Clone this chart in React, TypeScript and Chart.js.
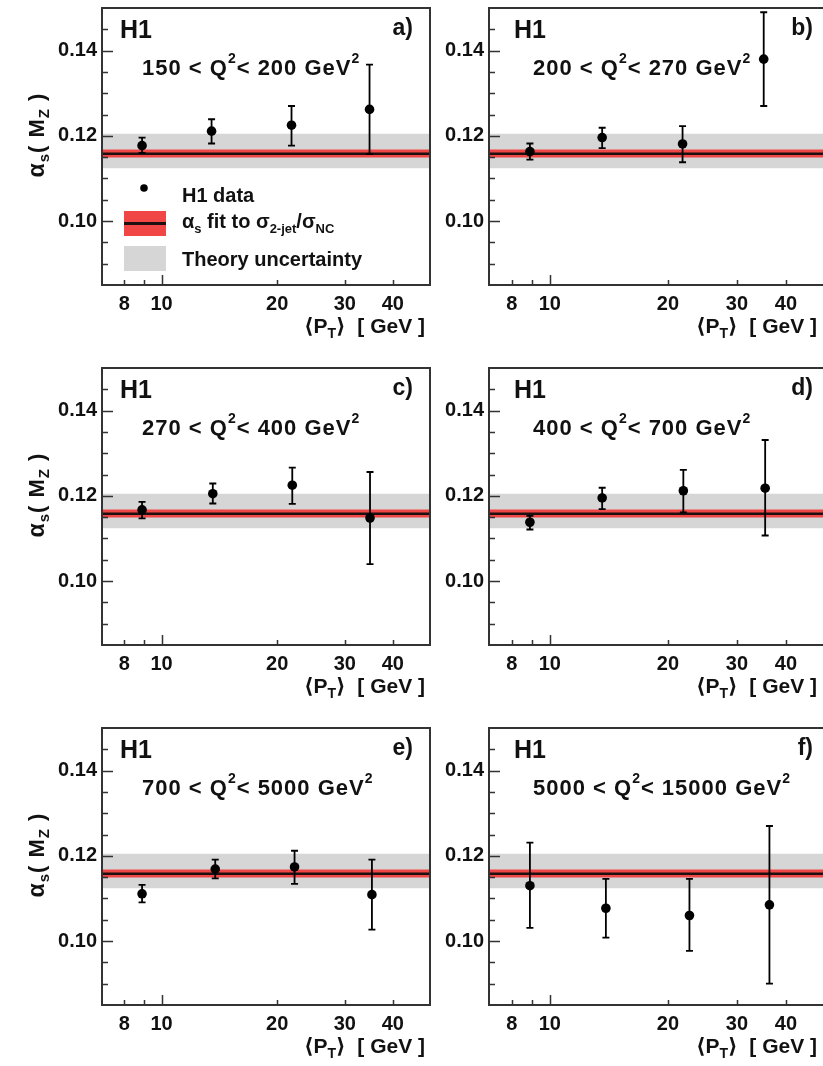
import React, { useEffect, useRef } from 'react';
import { Chart, registerables } from 'chart.js';

Chart.register(...registerables);

const FONT = "'Liberation Sans', Arial, Helvetica, 'DejaVu Sans', sans-serif";
const INK = '#111111';
const FRAME = '#333333';
const GRAY = '#d6d6d6';
const RED = '#f04646';
const FIT_LINE = '#1e1010';

// x axis (log)
const X_MIN = 7;
const X_MAX = 50;
const X_TICKS = [8, 9, 10, 20, 30, 40];
const X_LABELED = [8, 10, 20, 30, 40];
const X_MAJOR = [10];

// y axis
const Y_MIN = 0.085;
const Y_MAX = 0.15;
const Y_TICKS = [0.09, 0.095, 0.1, 0.105, 0.11, 0.115, 0.12, 0.125, 0.13, 0.135, 0.14, 0.145];
const Y_LABELED = [0.1, 0.12, 0.14];

// alpha_s fit and uncertainty bands
const FIT_VALUE = 0.1158;
const FIT_LOW = 0.1149;
const FIT_HIGH = 0.1168;
const THEORY_LOW = 0.1124;
const THEORY_HIGH = 0.1205;

// panel a) 150 < Q2 < 200
const PT_A = [8.9, 13.5, 21.8, 34.8];
const AS_A = [0.1177, 0.1211, 0.1225, 0.1262];
const HI_A = [0.1196, 0.1239, 0.127, 0.1367];
const LO_A = [0.116, 0.1182, 0.1177, 0.1157];
// panel b) 200 < Q2 < 270
const PT_B = [8.9, 13.6, 21.8, 35.1];
const AS_B = [0.1163, 0.1196, 0.1181, 0.138];
const HI_B = [0.1182, 0.1219, 0.1223, 0.149];
const LO_B = [0.1144, 0.1171, 0.1138, 0.127];
// panel c) 270 < Q2 < 400
const PT_C = [8.9, 13.6, 21.9, 34.9];
const AS_C = [0.1167, 0.1205, 0.1225, 0.1148];
const HI_C = [0.1186, 0.1229, 0.1266, 0.1256];
const LO_C = [0.1147, 0.1182, 0.1181, 0.104];
// panel d) 400 < Q2 < 700
const PT_D = [8.9, 13.6, 21.9, 35.4];
const AS_D = [0.1138, 0.1195, 0.1212, 0.1218];
const HI_D = [0.1153, 0.1219, 0.1261, 0.1331];
const LO_D = [0.1121, 0.1169, 0.1161, 0.1107];
// panel e) 700 < Q2 < 5000
const PT_E = [8.9, 13.8, 22.2, 35.3];
const AS_E = [0.1111, 0.1169, 0.1174, 0.1109];
const HI_E = [0.1132, 0.1191, 0.1212, 0.1191];
const LO_E = [0.1091, 0.1147, 0.1134, 0.1027];
// panel f) 5000 < Q2 < 15000
const PT_F = [8.9, 13.9, 22.7, 36.3];
const AS_F = [0.113, 0.1077, 0.106, 0.1085];
const HI_F = [0.1231, 0.1146, 0.1146, 0.127];
const LO_F = [0.1031, 0.1008, 0.0977, 0.09];

const Q2_LOW = ['150', '200', '270', '400', '700', '5000'];
const Q2_HIGH = ['200', '270', '400', '700', '5000', '15000'];
const TAGS = ['a)', 'b)', 'c)', 'd)', 'e)', 'f)'];

const PANELS = [
  { pt: PT_A, as: AS_A, hi: HI_A, lo: LO_A },
  { pt: PT_B, as: AS_B, hi: HI_B, lo: LO_B },
  { pt: PT_C, as: AS_C, hi: HI_C, lo: LO_C },
  { pt: PT_D, as: AS_D, hi: HI_D, lo: LO_D },
  { pt: PT_E, as: AS_E, hi: HI_E, lo: LO_E },
  { pt: PT_F, as: AS_F, hi: HI_F, lo: LO_F },
];

const ROW_H = 360;
const COLS = [
  { left: 0, width: 440, yW: 102, padR: 10, h1Dx: 18, tagDx: 17, subDx: 40, xTitleDx: 5 },
  { left: 440, width: 400, yW: 49, padR: 16, h1Dx: 25, tagDx: 11, subDx: 44, xTitleDx: 7 },
];

type Seg = { t: string; size: number; dy?: number };

function richWidth(ctx: CanvasRenderingContext2D, segs: Seg[], weight: string) {
  let w = 0;
  for (const s of segs) {
    ctx.font = `${weight} ${s.size}px ${FONT}`;
    w += ctx.measureText(s.t).width;
  }
  return w;
}

function drawRich(
  ctx: CanvasRenderingContext2D,
  x: number,
  y: number,
  segs: Seg[],
  align: 'left' | 'right' | 'center' = 'left',
  weight = 'bold'
) {
  const w = richWidth(ctx, segs, weight);
  let cx = align === 'right' ? x - w : align === 'center' ? x - w / 2 : x;
  ctx.textAlign = 'left';
  ctx.textBaseline = 'alphabetic';
  for (const s of segs) {
    ctx.font = `${weight} ${s.size}px ${FONT}`;
    ctx.fillText(s.t, cx, y + (s.dy || 0));
    cx += ctx.measureText(s.t).width;
  }
}

const near = (arr: number[], v: number) => arr.some((a) => Math.abs(a - v) < 1e-9);

function Panel({ index }: { index: number }) {
  const ref = useRef<HTMLCanvasElement>(null);
  const row = Math.floor(index / 2);
  const col = index % 2;
  const L = COLS[col];

  useEffect(() => {
    const p = PANELS[index];
    const hline = (v: number) => [
      { x: X_MIN, y: v },
      { x: X_MAX, y: v },
    ];
    const POINTS = 5;

    const decor = {
      id: 'decor',
      beforeDatasetDraw(chart: any, args: any) {
        if (args.index !== POINTS) return;
        const { ctx, scales } = chart;
        const xs = scales.x;
        const ys = scales.y;
        ctx.save();
        ctx.strokeStyle = '#000';
        ctx.lineWidth = 1.8;
        for (let i = 0; i < p.pt.length; i++) {
          const px = xs.getPixelForValue(p.pt[i]);
          const yh = ys.getPixelForValue(p.hi[i]);
          const yl = ys.getPixelForValue(p.lo[i]);
          ctx.beginPath();
          ctx.moveTo(px, yh);
          ctx.lineTo(px, yl);
          ctx.moveTo(px - 3.5, yh);
          ctx.lineTo(px + 3.5, yh);
          ctx.moveTo(px - 3.5, yl);
          ctx.lineTo(px + 3.5, yl);
          ctx.stroke();
        }
        ctx.restore();
      },
      afterDraw(chart: any) {
        const { ctx, chartArea: ca, scales } = chart;
        const xs = scales.x;
        const ys = scales.y;
        ctx.save();
        // ticks pointing inside
        ctx.strokeStyle = FRAME;
        ctx.lineWidth = 1.5;
        ctx.beginPath();
        for (const v of Y_TICKS) {
          const py = Math.round(ys.getPixelForValue(v)) + 0.5;
          const len = near(Y_LABELED, v) ? 11 : 6;
          ctx.moveTo(ca.left, py);
          ctx.lineTo(ca.left + len, py);
        }
        for (const v of X_TICKS) {
          const px = Math.round(xs.getPixelForValue(v)) + 0.5;
          const len = X_MAJOR.includes(v) ? 10 : 5;
          ctx.moveTo(px, ca.bottom);
          ctx.lineTo(px, ca.bottom - len);
        }
        ctx.stroke();
        // frame
        ctx.lineWidth = 2;
        ctx.strokeRect(ca.left, ca.top, ca.right - ca.left, ca.bottom - ca.top);

        ctx.fillStyle = INK;
        // H1 label
        drawRich(ctx, ca.left + L.h1Dx, ca.top + 30, [{ t: 'H1', size: 25 }]);
        // panel tag
        drawRich(ctx, ca.right - L.tagDx, ca.top + 27, [{ t: TAGS[index], size: 23 }], 'right');
        // Q2 range
        (ctx as any).letterSpacing = '1px';
        drawRich(ctx, ca.left + L.subDx, ca.top + 67, [
          { t: `${Q2_LOW[index]} < Q`, size: 22 },
          { t: '2', size: 14, dy: -12 },
          { t: `< ${Q2_HIGH[index]} GeV`, size: 22 },
          { t: '2', size: 14, dy: -12 },
        ]);
        (ctx as any).letterSpacing = '0px';
        // x axis title
        drawRich(
          ctx,
          ca.right - L.xTitleDx,
          ca.bottom + 48,
          [
            { t: '\u27E8P', size: 21 },
            { t: 'T', size: 14, dy: 5 },
            { t: '\u27E9  [ GeV ]', size: 21 },
          ],
          'right'
        );
        // y axis title (left column only)
        if (col === 0) {
          ctx.save();
          ctx.translate(44, ca.top + 127);
          ctx.rotate(-Math.PI / 2);
          (ctx as any).letterSpacing = '1px';
          drawRich(
            ctx,
            0,
            0,
            [
              { t: '\u03B1', size: 23 },
              { t: 's', size: 15, dy: 5 },
              { t: '( M', size: 22 },
              { t: 'Z', size: 15, dy: 5 },
              { t: ' )', size: 22 },
            ],
            'center'
          );
          (ctx as any).letterSpacing = '0px';
          ctx.restore();
        }
        // legend (panel a only)
        if (index === 0) {
          const lx = ca.left;
          const ty = ca.top;
          ctx.fillStyle = '#000';
          ctx.beginPath();
          ctx.arc(lx + 42, ty + 180, 3.8, 0, Math.PI * 2);
          ctx.fill();
          ctx.fillStyle = RED;
          ctx.fillRect(lx + 22, ty + 203, 42, 25);
          ctx.fillStyle = FIT_LINE;
          ctx.fillRect(lx + 22, ty + 214, 42, 3);
          ctx.fillStyle = GRAY;
          ctx.fillRect(lx + 22, ty + 238, 42, 25);
          ctx.fillStyle = INK;
          drawRich(ctx, lx + 80, ty + 194, [{ t: 'H1 data', size: 20 }]);
          drawRich(ctx, lx + 80, ty + 220, [
            { t: '\u03B1', size: 20 },
            { t: 's', size: 13, dy: 5 },
            { t: ' fit to \u03C3', size: 20 },
            { t: '2-jet', size: 13, dy: 5 },
            { t: '/\u03C3', size: 20 },
            { t: 'NC', size: 13, dy: 5 },
          ]);
          drawRich(ctx, lx + 80, ty + 258, [{ t: 'Theory uncertainty', size: 20 }]);
        }
        ctx.restore();
      },
    };

    const band = (v: number, fill: any, color: string, order: number) => ({
      data: hline(v),
      fill,
      backgroundColor: color,
      borderColor: 'rgba(0,0,0,0)',
      borderWidth: 0,
      pointRadius: 0,
      order,
    });

    const tickFont = { family: FONT, size: 20, weight: 'bold' as const };

    const chart = new Chart(ref.current as HTMLCanvasElement, {
      type: 'line',
      data: {
        datasets: [
          band(THEORY_HIGH, '+1', GRAY, 4),
          band(THEORY_LOW, false, GRAY, 4),
          band(FIT_HIGH, '+1', RED, 3),
          band(FIT_LOW, false, RED, 3),
          {
            data: hline(FIT_VALUE),
            borderColor: FIT_LINE,
            borderWidth: 2.5,
            pointRadius: 0,
            fill: false,
            order: 2,
          },
          {
            data: p.pt.map((x, i) => ({ x, y: p.as[i] })),
            showLine: false,
            pointRadius: 4.8,
            pointBackgroundColor: '#000',
            pointBorderColor: '#000',
            pointBorderWidth: 0,
            order: 0,
          },
        ] as any,
      },
      options: {
        responsive: false,
        maintainAspectRatio: false,
        animation: false,
        events: [],
        layout: { padding: { top: 8, right: L.padR, left: 0, bottom: 0 } },
        plugins: { legend: { display: false }, tooltip: { enabled: false } },
        elements: { line: { tension: 0 } },
        scales: {
          x: {
            type: 'logarithmic',
            min: X_MIN,
            max: X_MAX,
            afterBuildTicks: (s: any) => {
              s.ticks = X_TICKS.map((v) => ({ value: v }));
            },
            afterFit: (s: any) => {
              s.height = 75;
              s.paddingLeft = 0;
              s.paddingRight = 0;
            },
            ticks: {
              autoSkip: false,
              maxRotation: 0,
              minRotation: 0,
              padding: 7,
              font: tickFont,
              color: INK,
              callback: (v: any) => (X_LABELED.includes(Number(v)) ? String(v) : ''),
            },
            grid: { display: false, drawTicks: false },
            border: { display: false },
          },
          y: {
            type: 'linear',
            min: Y_MIN,
            max: Y_MAX,
            afterBuildTicks: (s: any) => {
              s.ticks = Y_TICKS.map((v) => ({ value: v }));
            },
            afterFit: (s: any) => {
              s.width = L.yW;
              s.paddingTop = 0;
              s.paddingBottom = 0;
            },
            ticks: {
              autoSkip: false,
              padding: 5,
              font: tickFont,
              color: INK,
              callback: (v: any) => (near(Y_LABELED, Number(v)) ? Number(v).toFixed(2) : ''),
            },
            grid: { display: false, drawTicks: false },
            border: { display: false },
          },
        },
      } as any,
      plugins: [decor],
    });
    return () => chart.destroy();
  }, [index]);

  return (
    <canvas
      ref={ref}
      width={L.width}
      height={ROW_H}
      style={{
        position: 'absolute',
        left: L.left,
        top: row * ROW_H,
        width: L.width,
        height: ROW_H,
      }}
    />
  );
}

export default function App() {
  return (
    <div
      style={{
        position: 'absolute',
        left: 0,
        top: 0,
        width: 823,
        height: 1066,
        overflow: 'hidden',
        background: '#ffffff',
      }}
    >
      {[0, 1, 2, 3, 4, 5].map((i) => (
        <Panel key={i} index={i} />
      ))}
    </div>
  );
}
